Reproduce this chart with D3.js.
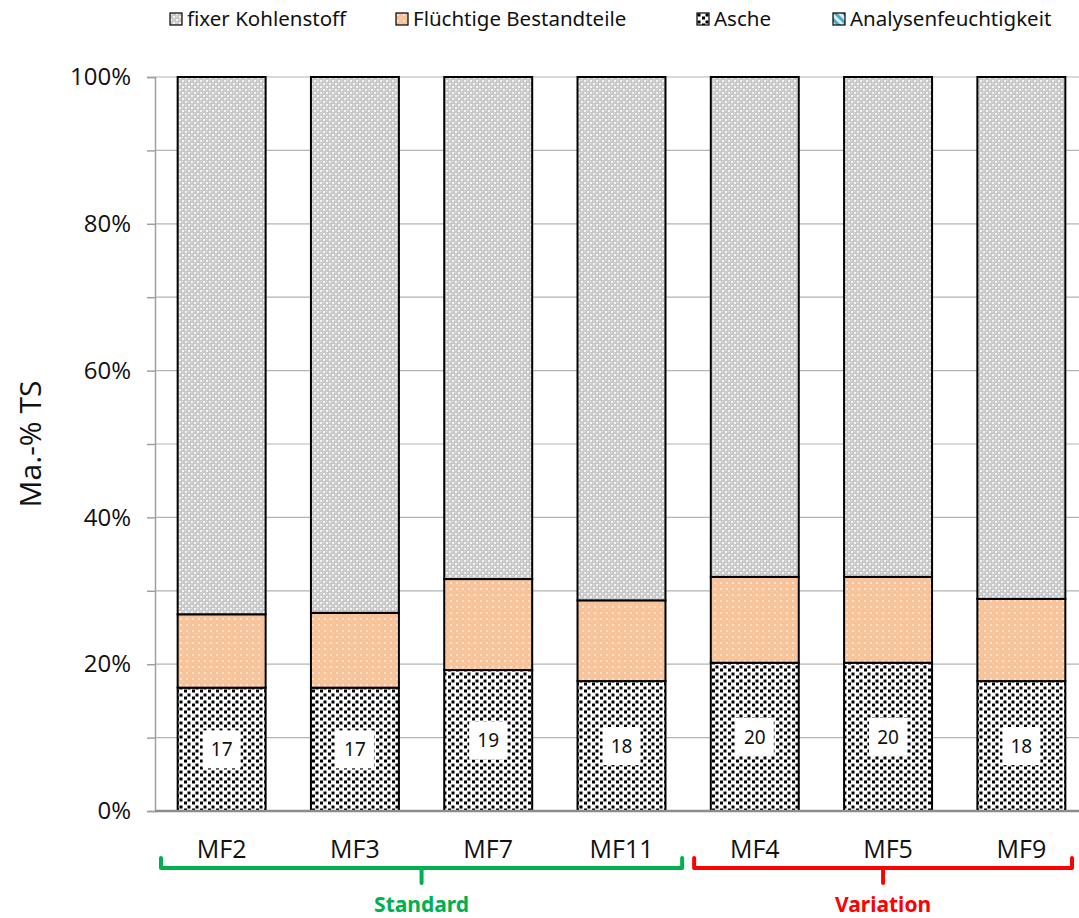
<!doctype html>
<html>

<head>
    <meta charset="utf-8">
    <style>
        body { margin: 0; background: #fff; }
        text { font-family: "Noto Sans", "Open Sans", sans-serif; }
    </style>
    <script src="https://d3js.org/d3.v7.min.js"></script>
</head>

<body>
    <svg width="1079" height="918"></svg>
    <script>
        var proben = ["MF2", "MF3", "MF7", "MF11", "MF4", "MF5", "MF9"];
        var asche = [16.8, 16.8, 19.2, 17.7, 20.2, 20.2, 17.7];
        var fluechtig = [10.0, 10.2, 12.4, 11.0, 11.7, 11.7, 11.2];
        var feuchte = [0, 0, 0, 0, 0, 0, 0];
        var fixC = [73.2, 73.0, 68.4, 71.3, 68.1, 68.1, 71.1];
        var aschLabels = ["17", "17", "19", "18", "20", "20", "18"];
        var yTicks = [0, 20, 40, 60, 80, 100];
        var gridTicks = [10, 20, 30, 40, 50, 60, 70, 80, 90, 100];
        var serienNamen = ["fixer Kohlenstoff", "Flüchtige Bestandteile", "Asche", "Analysenfeuchtigkeit"];
        var gruppen = [
            { name: "Standard", von: "MF2", bis: "MF11", farbe: "#00b050" },
            { name: "Variation", von: "MF4", bis: "MF9", farbe: "#ff0000" }
        ];

        var svg = d3.select("svg"),
            margin = { top: 77, right: -9, bottom: 107, left: 155 },
            width = 1079 - margin.left - margin.right,
            height = 918 - margin.top - margin.bottom;

        // patterns
        var defs = svg.append("defs");

        var pC = defs.append("pattern").attr("id", "pat-fix")
            .attr("width", 6).attr("height", 6).attr("patternUnits", "userSpaceOnUse");
        pC.append("rect").attr("width", 6).attr("height", 6).attr("fill", "#c8c8c8");
        pC.append("rect").attr("x", 0).attr("y", 0).attr("width", 2).attr("height", 2).attr("fill", "#f4f4f4");
        pC.append("rect").attr("x", 3).attr("y", 3).attr("width", 2).attr("height", 2).attr("fill", "#f4f4f4");
        pC.append("rect").attr("x", 3).attr("y", 0).attr("width", 1).attr("height", 1).attr("fill", "#e6e6e6");
        pC.append("rect").attr("x", 0).attr("y", 3).attr("width", 1).attr("height", 1).attr("fill", "#e6e6e6");

        var pV = defs.append("pattern").attr("id", "pat-vol")
            .attr("width", 6).attr("height", 6).attr("patternUnits", "userSpaceOnUse");
        pV.append("rect").attr("width", 6).attr("height", 6).attr("fill", "#f7c39a");
        pV.append("rect").attr("x", 1).attr("y", 1).attr("width", 2).attr("height", 2).attr("fill", "#fde2cb");
        pV.append("rect").attr("x", 4).attr("y", 4).attr("width", 1).attr("height", 1).attr("fill", "#fbd3b3");

        var pA = defs.append("pattern").attr("id", "pat-asche")
            .attr("width", 8).attr("height", 7).attr("patternUnits", "userSpaceOnUse");
        pA.append("rect").attr("width", 8).attr("height", 7).attr("fill", "#fff");
        pA.append("rect").attr("x", 0.5).attr("y", 0.5).attr("width", 3).attr("height", 3).attr("fill", "#000");
        pA.append("rect").attr("x", 5).attr("y", 3.5).attr("width", 3).attr("height", 3).attr("fill", "#000");

        var pF = defs.append("pattern").attr("id", "pat-feucht")
            .attr("width", 6).attr("height", 6).attr("patternUnits", "userSpaceOnUse")
            .attr("patternTransform", "rotate(-45)");
        pF.append("rect").attr("width", 6).attr("height", 6).attr("fill", "#dbeef3");
        pF.append("rect").attr("width", 3).attr("height", 6).attr("fill", "#4bacc6");

        var fills = ["url(#pat-fix)", "url(#pat-vol)", "url(#pat-asche)", "url(#pat-feucht)"];

        var xScale = d3.scaleBand().domain(proben).range([0, width]).paddingInner(0.34).paddingOuter(0.17),
            yScale = d3.scaleLinear().domain([0, 100]).range([height, 0]);

        var g = svg.append("g")
            .attr("transform", "translate(" + margin.left + "," + margin.top + ")");

        // gridlines
        g.append("g").selectAll("line").data(gridTicks).enter().append("line")
            .attr("x1", 0).attr("x2", width)
            .attr("y1", function (d) { return yScale(d); })
            .attr("y2", function (d) { return yScale(d); })
            .attr("stroke", "#b4b4b4").attr("stroke-width", 1.2);

        // y axis
        var yAxis = g.append("g")
            .call(d3.axisLeft(yScale).tickValues([0].concat(gridTicks)).tickSize(8).tickFormat(function (d) {
                return yTicks.indexOf(d) >= 0 ? d + "%" : "";
            }));
        yAxis.select(".domain").attr("stroke", "#a0a0a0").attr("stroke-width", 1.5);
        yAxis.selectAll(".tick line").attr("stroke", "#a0a0a0").attr("stroke-width", 1.5);
        yAxis.selectAll(".tick text").attr("font-size", 24).attr("fill", "#111").attr("x", -24)
            .style("font-family", "'Open Sans', sans-serif");

        // stacked bars
        var rows = proben.map(function (p, i) {
            return { probe: p, asche: asche[i], fluechtig: fluechtig[i], feuchte: feuchte[i], fix: fixC[i] };
        });
        var stack = d3.stack().keys(["asche", "fluechtig", "feuchte", "fix"]);
        var series = stack(rows);
        var fillByKey = { fix: fills[0], fluechtig: fills[1], asche: fills[2], feuchte: fills[3] };

        series.forEach(function (s) {
            g.append("g").selectAll("rect").data(s).enter().append("rect")
                .attr("x", function (d) { return xScale(d.data.probe); })
                .attr("y", function (d) { return yScale(d[1]); })
                .attr("width", xScale.bandwidth())
                .attr("height", function (d) { return yScale(d[0]) - yScale(d[1]); })
                .attr("fill", fillByKey[s.key])
                .attr("stroke", "#000")
                .attr("stroke-width", function (d) { return d[1] - d[0] > 0 ? 2 : 0; });
        });

        // x axis line
        g.append("line").attr("x1", 0).attr("x2", width).attr("y1", height).attr("y2", height)
            .attr("stroke", "#8c8c8c").attr("stroke-width", 2.5);

        // ash labels
        var lbl = g.append("g").selectAll("g").data(rows).enter().append("g")
            .attr("transform", function (d) {
                return "translate(" + (xScale(d.probe) + xScale.bandwidth() / 2) + "," + yScale(d.asche / 2) + ")";
            });
        lbl.append("rect").attr("x", -19).attr("y", -19).attr("width", 38).attr("height", 38).attr("fill", "#fff");
        lbl.append("text").attr("text-anchor", "middle").attr("dy", "0.36em")
            .attr("font-size", 19).attr("fill", "#111")
            .text(function (d, i) { return aschLabels[i]; });

        // category labels
        g.append("g").selectAll("text").data(proben).enter().append("text")
            .attr("x", function (d) { return xScale(d) + xScale.bandwidth() / 2; })
            .attr("y", height + 47)
            .attr("text-anchor", "middle")
            .attr("font-size", 25).attr("fill", "#111")
            .style("font-family", "'Open Sans', sans-serif")
            .text(function (d) { return d; });

        // group brackets
        var bandStep = xScale.step();
        gruppen.forEach(function (gr) {
            var x0 = xScale(gr.von) - xScale.paddingOuter() * bandStep + 6,
                x1 = Math.min(xScale(gr.bis) + xScale.bandwidth() + xScale.paddingOuter() * bandStep - 6, 1072 - margin.left),
                xm = (x0 + x1) / 2,
                yb = height + 57;
            g.append("path")
                .attr("d", "M" + x0 + "," + (yb - 10) + " L" + x0 + "," + yb + " L" + x1 + "," + yb + " L" + x1 + "," + (yb - 10)
                    + " M" + xm + "," + yb + " L" + xm + "," + (yb + 15))
                .attr("fill", "none").attr("stroke", gr.farbe).attr("stroke-width", 4)
                .attr("stroke-linejoin", "round").attr("stroke-linecap", "round");
            g.append("text").attr("x", xm).attr("y", yb + 44)
                .attr("text-anchor", "middle").attr("font-size", 21).attr("font-weight", "bold")
                .attr("fill", gr.farbe).text(gr.name);
        });

        // y title
        svg.append("text")
            .attr("transform", "translate(41," + (margin.top + height / 2) + ") rotate(-90)")
            .attr("text-anchor", "middle")
            .attr("font-size", 30).attr("fill", "#111")
            .style("font-family", "'Open Sans', sans-serif")
            .text("Ma.-% TS");

        // legend
        var legX = [170, 396, 697, 833];
        var leg = svg.append("g").selectAll("g").data(serienNamen).enter().append("g")
            .attr("transform", function (d, i) { return "translate(" + legX[i] + ",13)"; });
        leg.append("rect").attr("width", 12).attr("height", 12)
            .attr("fill", function (d, i) { return fills[i]; })
            .attr("stroke", "#000").attr("stroke-width", 1.2);
        leg.append("text").attr("x", 17).attr("y", 13)
            .attr("font-size", 20.5).attr("fill", "#111")
            .text(function (d) { return d; });
    </script>
</body>

</html>
